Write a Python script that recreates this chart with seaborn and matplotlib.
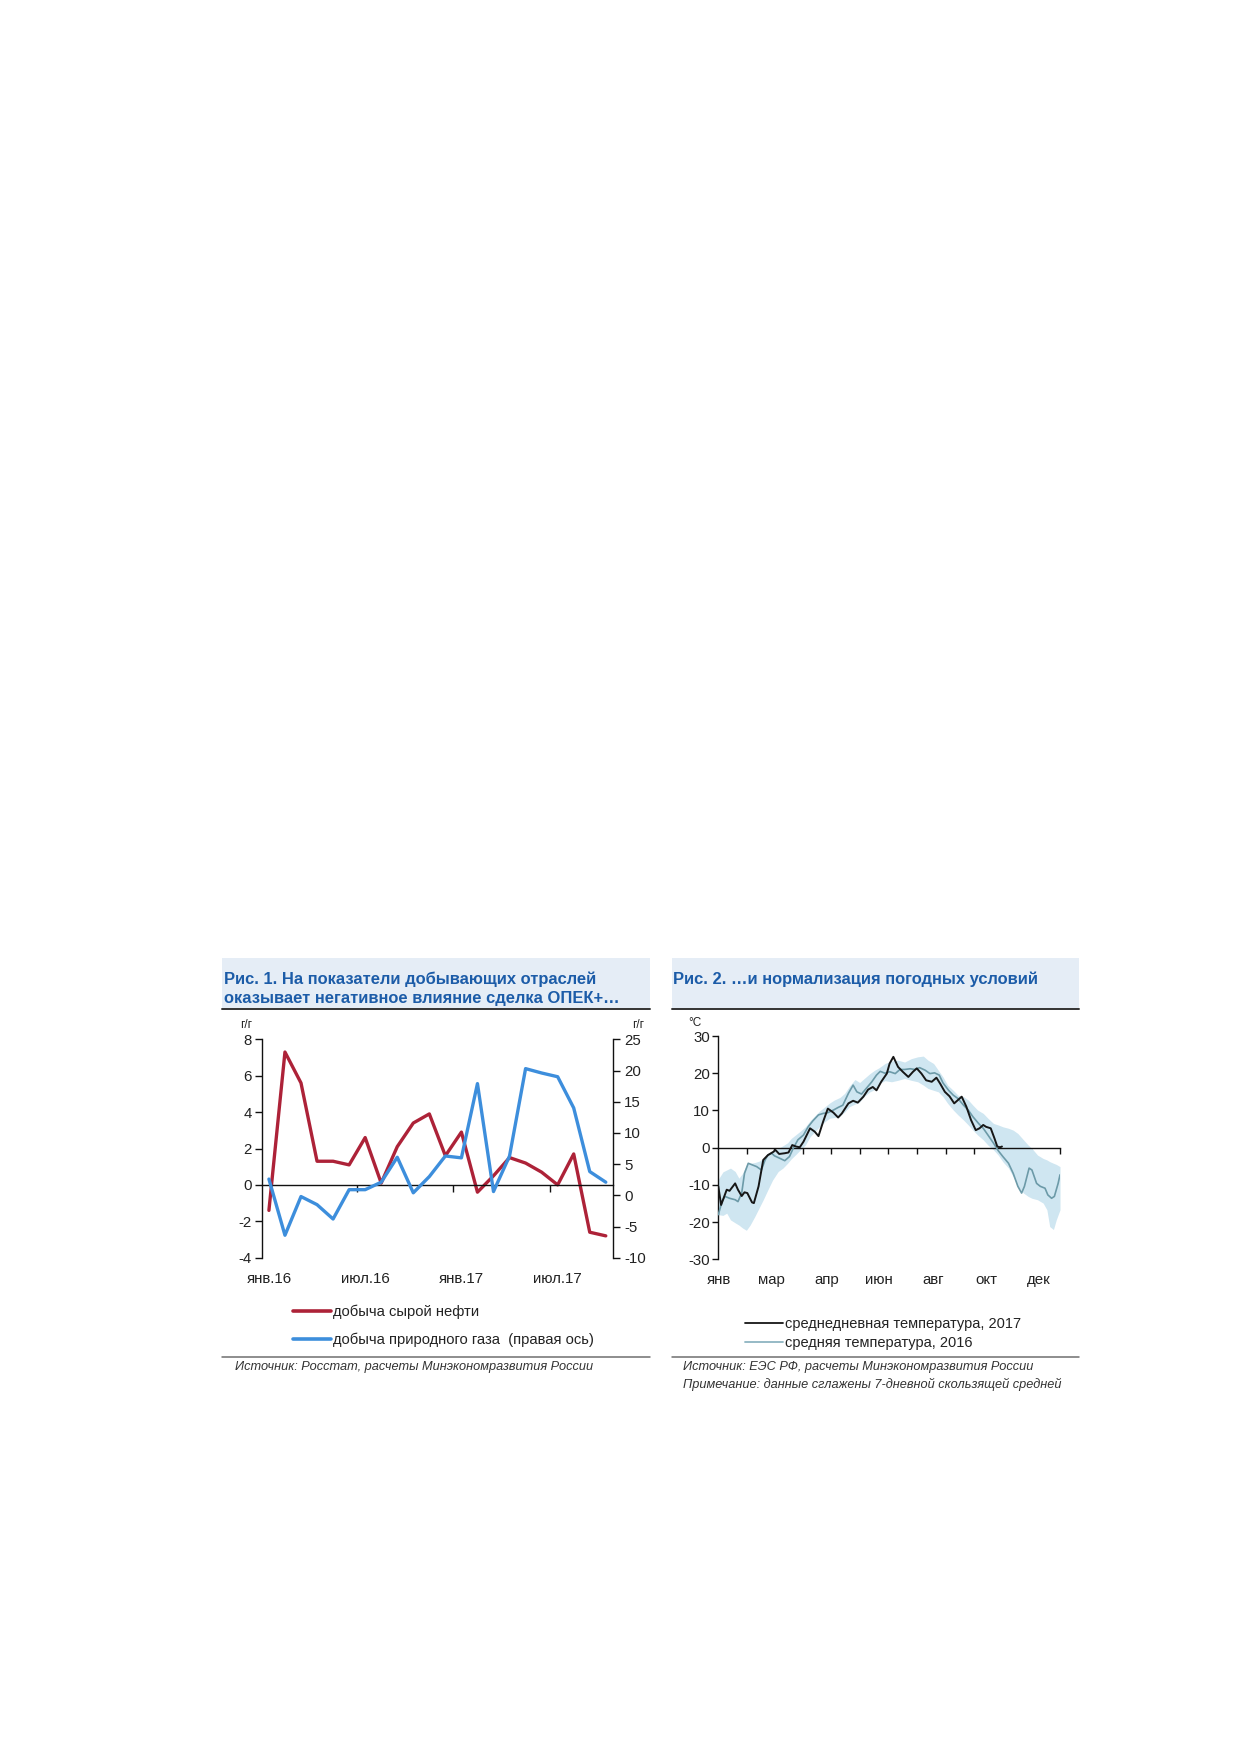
import numpy as np
import pandas as pd
import matplotlib
matplotlib.use("Agg")
import matplotlib.pyplot as plt
from matplotlib.lines import Line2D
from matplotlib.patches import Rectangle
import seaborn as sns

# ---------------- data: chart 1 ----------------
months = ["янв.16", "фев.16", "мар.16", "апр.16", "май.16", "июн.16",
          "июл.16", "авг.16", "сен.16", "окт.16", "ноя.16", "дек.16",
          "янв.17", "фев.17", "мар.17", "апр.17", "май.17", "июн.17",
          "июл.17", "авг.17", "сен.17", "окт.17"]
oil = [-1.4, 7.3, 5.6, 1.3, 1.3, 1.1, 2.6, 0.1, 2.1, 3.4, 3.9, 1.6,
       2.9, -0.4, 0.5, 1.5, 1.2, 0.7, 0.0, 1.7, -2.6, -2.8]
gas = [2.6, -6.4, -0.2, -1.5, -3.8, 0.9, 0.9, 2.1, 6.1, 0.4, 3.0, 6.3,
       6.0, 17.9, 0.6, 6.3, 20.3, 19.6, 19.0, 14.0, 3.8, 2.1]
label_every = 6

# ---------------- data: chart 2 (day of year, °C) ----------------
t2017_day = [0, 3, 9, 12, 18, 21, 25, 28, 31, 36, 38, 43, 48, 53, 59, 61, 65,
             71, 75, 79, 83, 87, 91, 98, 103, 107, 112, 117, 123, 128, 132,
             139, 144, 149, 155, 160, 165, 169, 174, 180, 183, 187, 192, 197,
             203, 208, 212, 217, 222, 228, 233, 237, 242, 247, 252, 256, 260,
             265, 270, 275, 279, 283, 286, 291, 295, 298, 301, 303]
t2017_val = [-10.4, -15.4, -11.3, -11.6, -9.6, -11.3, -13.0, -12.0, -12.2,
             -14.7, -14.9, -10.4, -3.3, -2.0, -1.1, -0.6, -1.7, -1.5, -1.3,
             0.7, 0.3, 0.1, 1.6, 5.2, 4.3, 3.1, 7.0, 10.5, 9.4, 8.1, 9.2,
             11.9, 12.6, 12.1, 13.7, 15.6, 16.3, 15.4, 17.7, 19.9, 22.6, 24.4,
             21.7, 20.4, 19.0, 20.4, 21.3, 19.9, 18.1, 17.7, 18.8, 17.2, 15.0,
             13.8, 11.9, 12.8, 13.7, 11.0, 7.4, 4.7, 5.2, 6.1, 5.6, 5.2, 2.5,
             0.3, 0.1, 0.3]

t2016_day = [0, 4, 7, 12, 18, 21, 25, 28, 32, 36, 41, 46, 50, 53, 57, 60, 66,
             71, 76, 80, 85, 91, 96, 101, 107, 112, 117, 123, 128, 133, 139,
             144, 148, 153, 158, 164, 169, 173, 178, 183, 189, 194, 199, 205,
             210, 215, 221, 226, 231, 236, 240, 246, 251, 256, 262, 267, 272,
             278, 283, 288, 294, 299, 304, 310, 315, 320, 324, 327, 332, 335,
             340, 344, 349, 352, 356, 359, 363, 365]
t2016_val = [-18.0, -14.5, -13.1, -13.6, -14.0, -14.5, -12.2, -6.9, -4.2,
             -4.6, -5.1, -6.0, -3.3, -2.0, -1.5, -2.2, -2.9, -3.5, -2.4, -0.2,
             2.1, 3.4, 5.6, 7.2, 8.8, 9.2, 9.4, 10.1, 10.8, 11.4, 14.6, 16.8,
             15.0, 14.4, 15.9, 17.7, 19.5, 20.5, 20.0, 20.4, 19.9, 21.0, 21.0,
             21.2, 21.0, 21.5, 20.8, 19.9, 20.1, 19.5, 17.4, 15.4, 14.1, 13.2,
             11.4, 10.1, 8.3, 6.5, 5.2, 3.4, 1.2, -0.8, -2.4, -4.2, -6.9,
             -10.4, -12.2, -10.4, -5.5, -6.0, -9.6, -10.4, -10.9, -12.7,
             -13.6, -13.1, -9.6, -7.3]

band_day = [0, 5, 9, 13, 18, 22, 26, 30, 34, 39, 44, 48, 53, 58, 64, 69, 74,
            78, 83, 88, 93, 98, 103, 108, 114, 119, 124, 130, 135, 140, 146,
            151, 156, 162, 167, 172, 178, 185, 192, 199, 206, 213, 219, 224,
            230, 235, 240, 245, 251, 256, 262, 267, 272, 277, 283, 288, 294,
            299, 304, 310, 315, 320, 326, 331, 335, 341, 347, 351, 354, 358,
            361, 365]
band_low = [-18.0, -18.2, -17.6, -19.4, -20.2, -20.8, -21.6, -22.2, -20.8,
            -18.5, -16.0, -14.0, -11.3, -8.7, -6.4, -5.5, -4.2, -3.0, -1.8,
            -0.5, 0.7, 2.9, 4.3, 5.6, 7.0, 7.9, 8.1, 8.5, 9.6, 11.0, 11.7,
            12.3, 13.8, 15.0, 15.6, 17.2, 18.0, 17.7, 18.1, 18.6, 18.1, 17.7,
            16.8, 15.9, 15.4, 15.0, 13.7, 11.9, 10.1, 8.8, 7.4, 6.1, 4.7, 3.4,
            2.1, 0.7, -0.6, -2.0, -3.8, -5.5, -7.8, -10.4, -12.2, -13.1,
            -13.6, -14.0, -14.9, -16.7, -21.2, -22.0, -19.4, -16.7]
band_up = [-8.5, -6.5, -6.0, -5.5, -6.4, -8.2, -6.9, -4.6, -4.2, -4.0, -3.6,
           -2.9, -2.0, -0.8, -0.2, 0.5, 1.3, 2.5, 3.5, 4.5, 5.6, 7.2, 8.5,
           9.8, 11.0, 12.0, 12.8, 13.5, 14.6, 16.5, 18.3, 17.5, 18.6, 19.9,
           20.8, 21.5, 22.6, 23.3, 23.5, 23.0, 23.9, 24.4, 24.6, 23.5, 22.6,
           20.8, 19.0, 16.8, 15.4, 14.1, 13.7, 12.8, 11.4, 10.1, 9.2, 7.9,
           6.5, 6.1, 5.6, 5.2, 4.7, 3.8, 2.1, 0.7, -0.2, -2.0, -2.9, -3.3,
           -3.75, -4.2, -4.5, -5.1]

month_starts = [31, 59, 90, 120, 151, 181, 212, 243, 273, 304, 334]
label_days = [1, 57, 116, 172, 230, 286, 342]
label_names = ["янв", "мар", "апр", "июн", "авг", "окт", "дек"]

# ---------------- style ----------------
sns.set_theme(style="ticks")
plt.rcParams['font.family'] = ['Liberation Sans', 'DejaVu Sans']
plt.rcParams['axes.linewidth'] = 1.0
plt.rcParams['axes.unicode_minus'] = False

RED = "#AD2238"
BLUE = "#3D8EDC"
TITLE_BG = "#E5EDF6"
TITLE_FG = "#1C5CA8"
TXT = "#222222"
TICK_FS = 10.8
SRC_FS = 9.2
TITLE_FS = 11.9

W, H = 1239, 1752
fig = plt.figure(figsize=(W / 100, H / 100), dpi=100)
fig.patch.set_facecolor("white")


def fx(px):
    return px / W


def fy(py):
    return 1 - py / H


# title bands and rules
for x0, x1 in [(222, 650), (672, 1079)]:
    fig.add_artist(Rectangle((fx(x0), fy(1008)), fx(x1) - fx(x0), fy(958) - fy(1008),
                             transform=fig.transFigure, facecolor=TITLE_BG,
                             edgecolor="none", zorder=0))
    fig.add_artist(Line2D([fx(x0), fx(x1)], [fy(1009), fy(1009)],
                          transform=fig.transFigure, color="#333333", lw=1.4))
    fig.add_artist(Line2D([fx(x0), fx(x1)], [fy(1357), fy(1357)],
                          transform=fig.transFigure, color="#6f6f6f", lw=1.1))

fig.text(fx(224), fy(979), "Рис. 1. На показатели добывающих отраслей",
         color=TITLE_FG, fontsize=TITLE_FS, fontweight="bold", va="center", ha="left")
fig.text(fx(224), fy(998), "оказывает негативное влияние сделка ОПЕК+…",
         color=TITLE_FG, fontsize=TITLE_FS, fontweight="bold", va="center", ha="left")
fig.text(fx(673), fy(979), "Рис. 2. …и нормализация погодных условий",
         color=TITLE_FG, fontsize=TITLE_FS, fontweight="bold", va="center", ha="left")

# ---------------- chart 1 ----------------
df1 = pd.DataFrame({"i": np.arange(len(months)), "month": months,
                    "oil": oil, "gas": gas})

ax1 = fig.add_axes([fx(261.7), fy(1257.7), fx(613) - fx(261.7), fy(1039.3) - fy(1257.7)])
ax1.set_facecolor("none")
sns.lineplot(data=df1, x="i", y="oil", ax=ax1, color=RED, lw=2.4, legend=False)
ax1.set_xlim(-0.45, len(months) - 0.55)
ax1.set_ylim(-4, 8)
ax1.set_yticks(np.arange(-4, 9, 2))
ax1.spines["top"].set_visible(False)
ax1.spines["right"].set_visible(False)
ax1.spines["bottom"].set_position(("data", 0))
ax1.spines["bottom"].set_color("#111111")
ax1.spines["left"].set_color("#111111")
ax1.set_xticks(np.arange(label_every - 0.5, len(months) - 1, label_every))
ax1.tick_params(axis="x", labelbottom=False, length=5, width=1, color="#111111")
ax1.tick_params(axis="y", labelsize=TICK_FS, length=5, width=1, pad=2,
                color="#111111", labelcolor=TXT)
ax1.set_xlabel("")
ax1.set_ylabel("")

axr = ax1.twinx()
sns.lineplot(data=df1, x="i", y="gas", ax=axr, color=BLUE, lw=2.4, legend=False)
axr.set_ylim(-10, 25)
axr.set_yticks(np.arange(-10, 26, 5))
for s in ["top", "left", "bottom"]:
    axr.spines[s].set_visible(False)
axr.spines["right"].set_color("#111111")
axr.tick_params(axis="y", labelsize=TICK_FS, length=5, width=1, pad=3,
                color="#111111", labelcolor=TXT)
axr.set_ylabel("")
axr.set_xlabel("")

sec1 = ax1.secondary_xaxis("bottom")
sec1.set_xticks(df1["i"][::label_every].tolist(), labels=months[::label_every])
sec1.tick_params(length=0, pad=10, labelsize=TICK_FS, labelcolor=TXT)
sec1.spines["bottom"].set_visible(False)

fig.text(fx(246), fy(1025), "г/г", fontsize=8.5, color=TXT, ha="center", va="center")
fig.text(fx(638), fy(1025), "г/г", fontsize=8.5, color=TXT, ha="center", va="center")

fig.legend([Line2D([], [], color=RED, lw=2.6), Line2D([], [], color=BLUE, lw=2.6)],
           ["добыча сырой нефти", "добыча природного газа  (правая ось)"],
           loc="center left", bbox_to_anchor=(fx(293), fy(1326)), frameon=False,
           fontsize=10.6, handlelength=2.6, handletextpad=0.1, labelspacing=0.95,
           borderpad=0, borderaxespad=0, labelcolor=TXT)

fig.text(fx(235), fy(1367), "Источник: Росстат, расчеты Минэкономразвития России",
         fontsize=SRC_FS, style="italic", color="#333333", va="center", ha="left")

# ---------------- chart 2 ----------------
df_2017 = pd.DataFrame({"day": t2017_day, "t": t2017_val})
df_2016 = pd.DataFrame({"day": t2016_day, "t": t2016_val})
df_band = pd.DataFrame({"day": band_day, "low": band_low, "up": band_up})

ax2 = fig.add_axes([fx(718.3), fy(1259.3), fx(1060) - fx(718.3), fy(1036) - fy(1259.3)])
ax2.set_facecolor("none")
ax2.fill_between(df_band["day"], df_band["low"], df_band["up"],
                 color="#CFE6F1", lw=0, zorder=1)
sns.lineplot(data=df_2016, x="day", y="t", ax=ax2, color="#6C9AA8", lw=1.2,
             zorder=3, sort=False)
sns.lineplot(data=df_2017, x="day", y="t", ax=ax2, color="#161616", lw=1.4,
             zorder=4, sort=False)
ax2.set_xlim(0, 365)
ax2.set_ylim(-30, 30)
ax2.set_yticks(np.arange(-30, 31, 10))
ax2.spines["top"].set_visible(False)
ax2.spines["right"].set_visible(False)
ax2.spines["bottom"].set_position(("data", 0))
ax2.spines["bottom"].set_color("#111111")
ax2.spines["left"].set_color("#111111")
ax2.set_xticks(month_starts + [365])
ax2.tick_params(axis="x", labelbottom=False, length=4, width=1, color="#111111")
ax2.tick_params(axis="y", labelsize=TICK_FS, length=4, width=1, pad=2,
                color="#111111", labelcolor=TXT)
ax2.set_xlabel("")
ax2.set_ylabel("")

sec2 = ax2.secondary_xaxis("bottom")
sec2.set_xticks(label_days, labels=label_names)
sec2.tick_params(length=0, pad=10, labelsize=TICK_FS, labelcolor=TXT)
sec2.spines["bottom"].set_visible(False)

fig.text(fx(695), fy(1023), "°C", fontsize=8.5, color=TXT, ha="center", va="center")

fig.legend([Line2D([], [], color="#161616", lw=1.3), Line2D([], [], color="#8DB4C2", lw=1.3)],
           ["среднедневная температура, 2017", "средняя температура, 2016"],
           loc="center left", bbox_to_anchor=(fx(745), fy(1333.5)), frameon=False,
           fontsize=10.5, handlelength=2.6, handletextpad=0.15, labelspacing=0.35,
           borderpad=0, borderaxespad=0, labelcolor=TXT)

fig.text(fx(683), fy(1367), "Источник: ЕЭС РФ, расчеты Минэкономразвития России",
         fontsize=SRC_FS, style="italic", color="#333333", va="center", ha="left")
fig.text(fx(683), fy(1384), "Примечание: данные сглажены 7-дневной скользящей средней",
         fontsize=SRC_FS, style="italic", color="#333333", va="center", ha="left")

fig.savefig("out.png", dpi=100, facecolor="white")
